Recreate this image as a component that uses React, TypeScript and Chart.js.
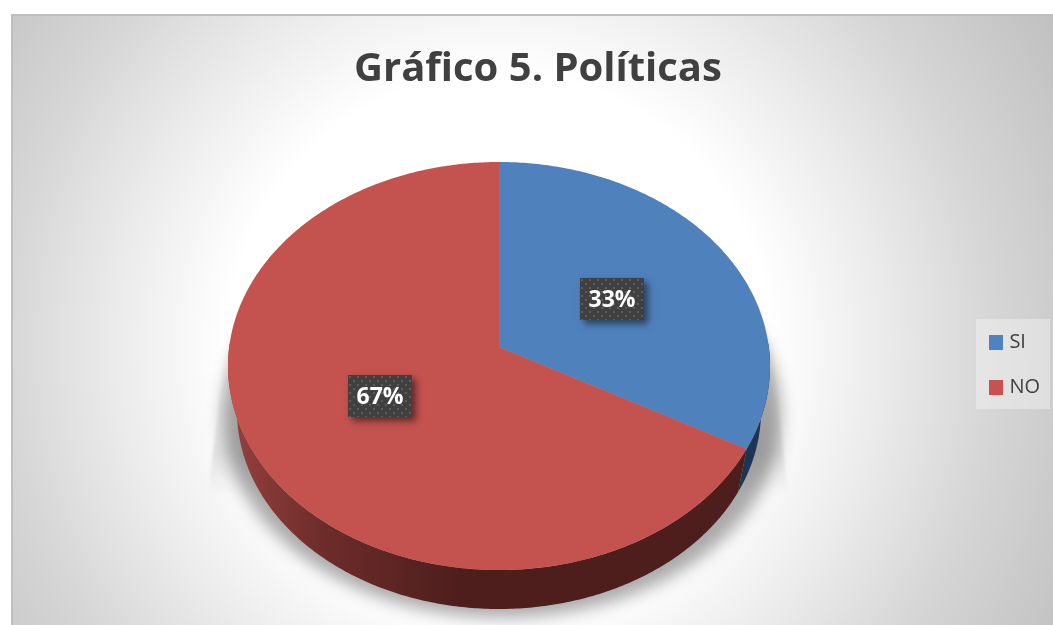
import { useEffect, useRef } from "react";
import { Chart, registerables } from "chart.js";

Chart.register(...registerables);

const categories = ["SI", "NO"];
const shares = [33, 67];
const sliceColors = ["#4f81bd", "#c4524f"];
const swatchColors = ["#5082c2", "#c9514f"];
const titleText = "Gráfico 5. Políticas";

const FONT = "'Open Sans', sans-serif";
const INK = "#404040";

// Tilted disc: top face and bottom rim, as ellipses on the canvas.
const TOP = { cx: 499, cy: 366, rx: 271, ry: 204 };
const RIM = { cx: 499, cy: 411, rx: 262, ry: 198 };
// Perspective pulls the visual centre of the disc towards the back.
const TILT = -0.093;
// Vertical nudge of each value plate away from its slice's mid-point.
const LABEL_NUDGE = [2, -4];

type Disc = { cx: number; cy: number; rx: number; ry: number };

// Projects a point of the unit disc through the perspective tilt onto an ellipse.
function project(d: Disc, u: number, v: number): [number, number] {
  const w = 1 + TILT * v;
  const pv = (v + TILT) / w;
  const pu = (u * Math.sqrt(1 - TILT * TILT)) / w;
  return [d.cx + pu * d.rx, d.cy + pv * d.ry];
}

function edge(d: Disc, angle: number, f = 1): [number, number] {
  return project(d, Math.cos(angle) * f, Math.sin(angle) * f);
}

function tracePolyline(ctx: CanvasRenderingContext2D, pts: [number, number][]) {
  pts.forEach(([x, y], i) => (i ? ctx.lineTo(x, y) : ctx.moveTo(x, y)));
}

function sweep(d: Disc, a0: number, a1: number): [number, number][] {
  const n = Math.max(2, Math.ceil(Math.abs(a1 - a0) * 90));
  const pts: [number, number][] = [];
  for (let i = 0; i <= n; i++) pts.push(edge(d, a0 + ((a1 - a0) * i) / n));
  return pts;
}

function makeDotPattern(ctx: CanvasRenderingContext2D) {
  const tile = document.createElement("canvas");
  tile.width = 8;
  tile.height = 8;
  const t = tile.getContext("2d")!;
  t.fillStyle = "#404040";
  t.fillRect(0, 0, 8, 8);
  t.fillStyle = "#5c5c5c";
  t.fillRect(1, 1, 2, 2);
  t.fillRect(5, 5, 2, 2);
  return ctx.createPattern(tile, "repeat")!;
}

// Solid legend swatch, used as a point style so the label can sit close to it.
function makeSwatch(color: string) {
  const c = document.createElement("canvas");
  c.width = 14;
  c.height = 15;
  const t = c.getContext("2d")!;
  t.fillStyle = color;
  t.fillRect(0, 0, 14, 15);
  return c;
}

const backdropPlugin = {
  id: "backdrop",
  beforeDraw(chart: any) {
    const ctx: CanvasRenderingContext2D = chart.ctx;
    ctx.save();
    const g = ctx.createRadialGradient(499, 345, 0, 499, 345, 646);
    g.addColorStop(0, "#ffffff");
    g.addColorStop(0.418, "#ffffff");
    g.addColorStop(0.464, "#fafafa");
    g.addColorStop(0.62, "#e8e8e8");
    g.addColorStop(0.774, "#d5d5d5");
    g.addColorStop(1, "#c0c0c0");
    ctx.fillStyle = g;
    ctx.fillRect(11, 14, 1042, 611);
    ctx.fillStyle = "#bfbfbf";
    ctx.fillRect(11, 14, 1042, 2);
    ctx.fillRect(11, 14, 2, 611);

    // Pale panel behind the legend
    ctx.fillStyle = "rgba(255,255,255,0.35)";
    ctx.fillRect(976, 319, 74, 90);
    ctx.restore();
  },
};

const discPlugin = {
  id: "disc",
  beforeDatasetsDraw(chart: any) {
    const ctx: CanvasRenderingContext2D = chart.ctx;
    const arcs = chart.getDatasetMeta(0).data;
    ctx.save();

    // Cast shadow: a long faint wedge plus a soft dark halo under the rim
    const wedge = ctx.createLinearGradient(0, 330, 0, 495);
    wedge.addColorStop(0, "rgba(0,0,0,0)");
    wedge.addColorStop(0.75, "rgba(0,0,0,0.085)");
    wedge.addColorStop(1, "rgba(0,0,0,0)");
    ctx.fillStyle = wedge;
    ctx.filter = "blur(1.5px)";
    ctx.beginPath();
    ctx.moveTo(227, 335);
    ctx.lineTo(771, 335);
    ctx.lineTo(788, 495);
    ctx.lineTo(208, 495);
    ctx.closePath();
    ctx.fill();

    ctx.filter = "blur(8px)";
    ctx.fillStyle = "rgba(0,0,0,0.33)";
    ctx.beginPath();
    ctx.ellipse(502, 415, 279, 203, 0, 0, Math.PI * 2);
    ctx.fill();
    ctx.filter = "none";

    const redSide = ctx.createLinearGradient(228, 0, 460, 0);
    redSide.addColorStop(0, "#95413e");
    redSide.addColorStop(0.41, "#6d2c2a");
    redSide.addColorStop(1, "#4e1e1d");
    const sideFill = ["#1c3553", redSide];

    // Side wall of each slice, only where it faces the viewer
    arcs.forEach((arc: any, i: number) => {
      const a0 = Math.max(arc.startAngle, -0.02);
      const a1 = Math.min(arc.endAngle, Math.PI + 0.02);
      if (a1 <= a0) return;
      ctx.beginPath();
      tracePolyline(ctx, sweep(TOP, a0, a1));
      sweep(RIM, a1, a0).forEach(([x, y]) => ctx.lineTo(x, y));
      ctx.closePath();
      ctx.fillStyle = sideFill[i];
      ctx.fill();
    });

    // Top face of each slice
    arcs.forEach((arc: any, i: number) => {
      const [ax, ay] = project(TOP, 0, 0);
      ctx.beginPath();
      ctx.moveTo(ax, ay);
      sweep(TOP, arc.startAngle, arc.endAngle).forEach(([x, y]) => ctx.lineTo(x, y));
      ctx.closePath();
      ctx.fillStyle = sliceColors[i];
      ctx.fill();
    });

    // Value labels on dotted dark plates
    const dots = makeDotPattern(ctx);
    arcs.forEach((arc: any, i: number) => {
      const mid = (arc.startAngle + arc.endAngle) / 2;
      const [lx, ly] = edge(TOP, mid, 0.5);
      const w = 64;
      const h = 42;
      const x = Math.round(lx - w / 2);
      const y = Math.round(ly - h / 2) + LABEL_NUDGE[i];
      ctx.save();
      ctx.shadowColor = "rgba(0,0,0,0.5)";
      ctx.shadowBlur = 7;
      ctx.shadowOffsetX = 4;
      ctx.shadowOffsetY = 4;
      ctx.fillStyle = "#404040";
      ctx.fillRect(x, y, w, h);
      ctx.restore();
      ctx.save();
      ctx.translate(x, y);
      ctx.fillStyle = dots;
      ctx.fillRect(0, 0, w, h);
      ctx.restore();
      ctx.fillStyle = "#ffffff";
      ctx.font = `bold 23px ${FONT}`;
      ctx.textAlign = "center";
      ctx.textBaseline = "middle";
      ctx.fillText(`${shares[i]}%`, x + w / 2, y + h / 2 + 1);
    });

    ctx.restore();
    return false;
  },
};

export default function App() {
  const ref = useRef<HTMLCanvasElement>(null);

  useEffect(() => {
    const chart = new Chart(ref.current!, {
      type: "pie",
      data: {
        labels: categories,
        datasets: [{ data: shares, backgroundColor: swatchColors, borderWidth: 0 }],
      },
      plugins: [backdropPlugin, discPlugin],
      options: {
        responsive: false,
        animation: false,
        devicePixelRatio: 1,
        layout: { padding: { left: 26, right: 3 } },
        plugins: {
          tooltip: { enabled: false },
          title: {
            display: true,
            text: titleText,
            color: INK,
            font: { family: FONT, size: 40, weight: "bold" },
            padding: { top: 46, bottom: 10 },
          },
          legend: {
            position: "right",
            fullSize: false,
            labels: {
              color: INK,
              usePointStyle: true,
              pointStyleWidth: 6,
              boxHeight: 15,
              padding: 25,
              font: { family: FONT, size: 20 },
              generateLabels: (c: any) =>
                categories.map((text, i) => ({
                  text,
                  index: i,
                  fontColor: INK,
                  pointStyle: makeSwatch(swatchColors[i]),
                  hidden: !c.getDataVisibility(i),
                })),
            },
          },
        },
      },
    } as any);
    return () => chart.destroy();
  }, []);

  return (
    <canvas
      ref={ref}
      width={1053}
      height={625}
      style={{ position: "fixed", left: 0, top: 0, width: 1053, height: 625, display: "block" }}
    />
  );
}
